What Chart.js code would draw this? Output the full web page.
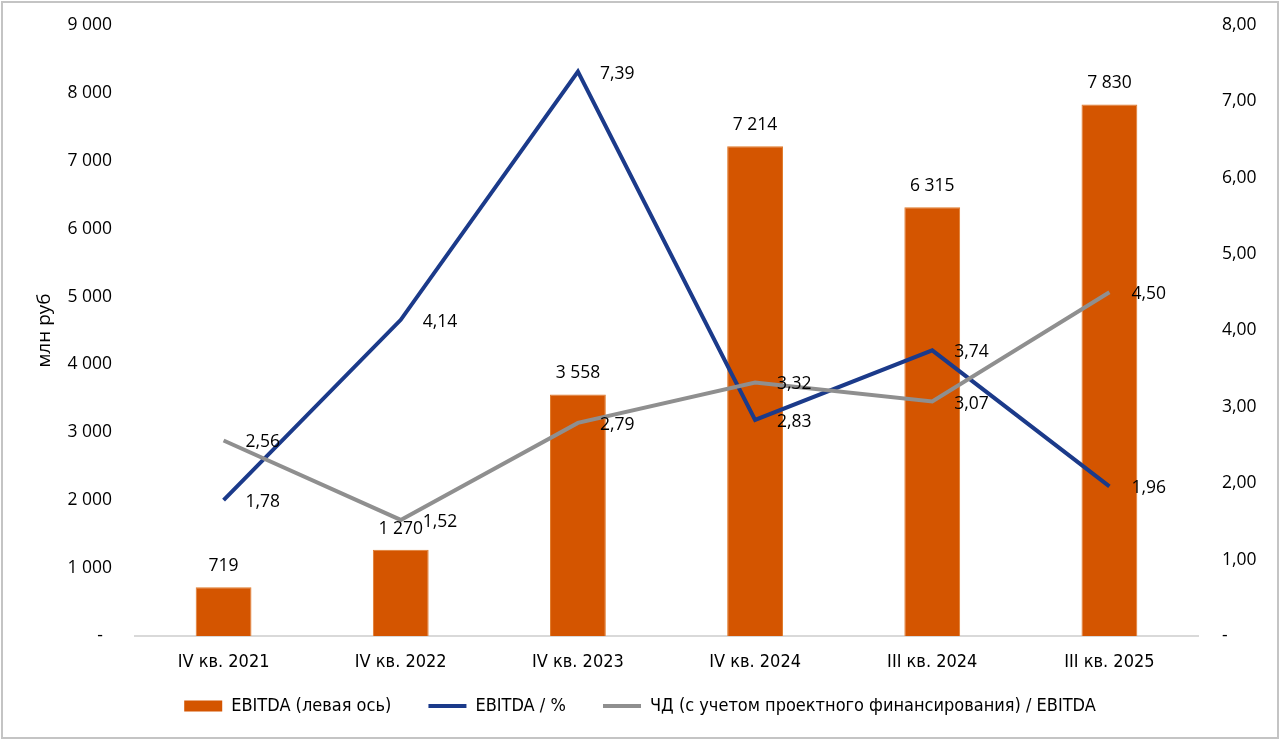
<!DOCTYPE html>
<html>
<head>
<meta charset="utf-8">
<script src="https://cdn.jsdelivr.net/npm/chart.js@4.4.1/dist/chart.umd.min.js"></script>
<style>
html,body{margin:0;padding:0;background:#fff;}
#wrap{width:1280px;height:740px;position:relative;}
</style>
</head>
<body>
<div id="wrap"><canvas id="c" width="1280" height="740"></canvas></div>
<script>
const categories = ['IV кв. 2021', 'IV кв. 2022', 'IV кв. 2023', 'IV кв. 2024', 'III кв. 2024', 'III кв. 2025'];
const ebitda = [719, 1270, 3558, 7214, 6315, 7830];
const ebitdaPct = [1.78, 4.14, 7.39, 2.83, 3.74, 1.96];
const ndEbitda = [2.56, 1.52, 2.79, 3.32, 3.07, 4.50];
const seriesNames = ['EBITDA (левая ось)', 'EBITDA / %', 'ЧД (с учетом проектного финансирования) / EBITDA'];
const leftAxisTitle = 'млн руб';

const FONT = '"Open Sans", "DejaVu Sans", sans-serif';
const NARROW = '"Liberation Sans Narrow", "DejaVu Sans Condensed", sans-serif';
const ORANGE = '#D45500';
const BLUE = '#1B3A8A';
const GRAY = '#8F8F8F';

function fmtInt(v) {
  return String(Math.round(v)).replace(/\B(?=(\d{3})+(?!\d))/g, ' ');
}
function fmtDec(v) {
  return v.toFixed(2).replace('.', ',');
}

const bgPlugin = {
  id: 'bg',
  beforeDraw(chart) {
    const ctx = chart.ctx;
    ctx.save();
    ctx.fillStyle = '#fff';
    ctx.fillRect(0, 0, chart.width, chart.height);
    ctx.restore();
  },
  afterDraw(chart) {
    const ctx = chart.ctx;
    ctx.save();
    ctx.strokeStyle = '#c4c4c4';
    ctx.lineWidth = 2;
    ctx.strokeRect(2, 2, chart.width - 4, chart.height - 4);
    ctx.restore();
  }
};

const labelPlugin = {
  id: 'valueLabels',
  afterDatasetsDraw(chart) {
    const ctx = chart.ctx;
    ctx.save();
    ctx.font = '17.5px ' + FONT;
    ctx.fillStyle = '#000';
    chart.data.datasets.forEach((ds, i) => {
      const meta = chart.getDatasetMeta(i);
      meta.data.forEach((el, j) => {
        const v = ds.data[j];
        if (ds.type === 'bar') {
          ctx.textAlign = 'center';
          ctx.textBaseline = 'middle';
          ctx.fillText(fmtInt(v), el.x, el.y - 21);
        } else {
          ctx.textAlign = 'left';
          ctx.textBaseline = 'middle';
          ctx.fillText(fmtDec(v), el.x + 22, el.y + 2);
        }
      });
    });
    ctx.restore();
  }
};

function noVPad(scale) {
  scale.paddingTop = 0;
  scale.paddingBottom = 0;
}

new Chart(document.getElementById('c'), {
  data: {
    labels: categories,
    datasets: [
      {
        type: 'bar',
        label: seriesNames[0],
        data: ebitda,
        yAxisID: 'y',
        backgroundColor: ORANGE,
        borderColor: '#E07A2A',
        borderWidth: 1,
        barPercentage: 0.315,
        categoryPercentage: 1,
        order: 3
      },
      {
        type: 'line',
        label: seriesNames[1],
        data: ebitdaPct,
        yAxisID: 'y1',
        borderColor: BLUE,
        backgroundColor: BLUE,
        borderWidth: 4,
        pointRadius: 0,
        pointStyle: 'line',
        tension: 0,
        order: 2
      },
      {
        type: 'line',
        label: seriesNames[2],
        data: ndEbitda,
        yAxisID: 'y1',
        borderColor: GRAY,
        backgroundColor: GRAY,
        borderWidth: 4,
        pointRadius: 0,
        pointStyle: 'line',
        tension: 0,
        order: 1
      }
    ]
  },
  options: {
    responsive: false,
    animation: false,
    devicePixelRatio: 1,
    layout: { padding: { top: 25, left: 0, right: 0, bottom: 15 } },
    plugins: {
      tooltip: { enabled: false },
      legend: {
        position: 'bottom',
        labels: {
          usePointStyle: true,
          pointStyleWidth: 38,
          boxWidth: 38,
          boxHeight: 11,
          padding: 21,
          color: '#000',
          font: { family: NARROW, size: 18 },
          sort: (a, b) => a.datasetIndex - b.datasetIndex,
          generateLabels(chart) {
            const items = Chart.defaults.plugins.legend.labels.generateLabels(chart);
            items.forEach(it => {
              it.pointStyle = it.datasetIndex === 0 ? 'rect' : 'line';
              if (it.datasetIndex === 0) { it.lineWidth = 0; it.strokeStyle = ORANGE; }
              if (it.datasetIndex < 2) { it.text = it.text + '\u2003'; }
            });
            return items;
          }
        }
      }
    },
    scales: {
      x: {
        grid: { display: false, drawTicks: false },
        border: { display: true, color: '#d9d9d9', width: 2 },
        ticks: { color: '#000', font: { family: NARROW, size: 18 }, padding: 16, maxRotation: 0 },
        afterFit(scale) { scale.height = 40; }
      },
      y: {
        position: 'left',
        min: 0,
        max: 9000,
        grid: { display: false, drawTicks: false },
        border: { display: false },
        ticks: {
          stepSize: 1000,
          color: '#000',
          padding: 23,
          font: { family: FONT, size: 17.5 },
          callback: v => v === 0 ? '-\u00A0\u00A0' : fmtInt(v)
        },
        title: {
          display: true,
          text: leftAxisTitle,
          color: '#000',
          font: { family: FONT, size: 19 },
          padding: { top: 33, bottom: 0 }
        },
        afterFit(scale) { scale.width = 135; noVPad(scale); }
      },
      y1: {
        position: 'right',
        min: 0,
        max: 8,
        grid: { display: false, drawTicks: false },
        border: { display: false },
        ticks: {
          stepSize: 1,
          color: '#000',
          padding: 24,
          font: { family: FONT, size: 17.5 },
          callback: v => v === 0 ? '-' : fmtDec(v)
        },
        afterFit(scale) { scale.width = 82; noVPad(scale); }
      }
    }
  },
  plugins: [bgPlugin, labelPlugin]
});
</script>
</body>
</html>
